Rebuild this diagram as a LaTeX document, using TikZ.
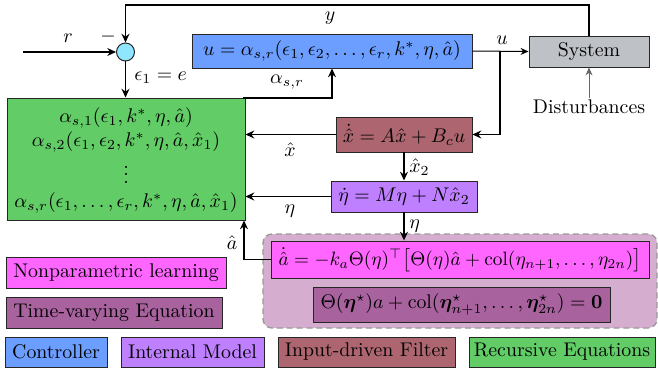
\documentclass[tikz,border=0pt]{standalone}
\usepackage{amsmath,amssymb,bm,graphicx}
\usetikzlibrary{arrows.meta}
\definecolor{cctrl}{RGB}{108,158,255}
\definecolor{csys}{RGB}{190,193,198}
\definecolor{cfilt}{RGB}{173,102,112}
\definecolor{cim}{RGB}{191,128,255}
\definecolor{clearn}{RGB}{255,102,255}
\definecolor{ctv}{RGB}{168,98,158}
\definecolor{crec}{RGB}{98,204,102}
\definecolor{ccont}{RGB}{213,174,207}
\definecolor{csum}{RGB}{143,230,255}
\newlength{\px}
\setlength{\px}{0.505pt}
\begin{document}
\begin{tikzpicture}[x=0.505pt,y=-0.505pt,
  blk/.style={draw=black!85, line width=0.5pt, inner sep=0pt, align=center},
  conn/.style={-{Stealth[length=4.4pt,width=4pt]}, line width=1pt},
  thinconn/.style={-{Stealth[length=4pt,width=3.5pt]}, line width=0.5pt},
  lab/.style={inner sep=1pt}]
\useasboundingbox (0,0) rectangle (658,369);
% container
\node[draw=black!40, dash pattern=on 3pt off 2pt, line width=0.7pt, fill=ccont, rounded corners=4.5pt,
      minimum width=394\px, minimum height=94\px] (cont) at (460,281) {};
% blocks
\node[blk, circle, fill=csum, minimum size=18\px] (sum) at (125.5,52) {};
\node[blk, fill=cctrl, minimum width=280\px, minimum height=34\px] (ctrl) at (332,51)
  {$u=\alpha_{s,r}(\epsilon_1,\epsilon_2,\ldots,\epsilon_r,k^*,\eta,\hat a)$};
\node[blk, fill=csys, minimum width=120\px, minimum height=31\px] (sys) at (589,51.5) {System};
\node[lab] (dist) at (589,107) {Disturbances};
\node[blk, fill=crec, minimum width=238\px, minimum height=122\px] (rec) at (126,159) {};
\node[lab] (rec1) at (126,118) {$\alpha_{s,1}(\epsilon_1,k^*,\eta,\hat a)$};
\node[lab] (rec2) at (126,142) {$\alpha_{s,2}(\epsilon_1,\epsilon_2,k^*,\eta,\hat a,\hat x_1)$};
\node[lab] (recd) at (126,169) {$\vdots$};
\node[lab] (recr) at (126,203) {$\alpha_{s,r}(\epsilon_1,\ldots,\epsilon_r,k^*,\eta,\hat a,\hat x_1)$};
\node[blk, fill=cfilt, minimum width=136\px, minimum height=35\px] (filt) at (404,134.5)
  {$\dot{\hat x}=A\hat x+B_c u$};
\node[blk, fill=cim, minimum width=146\px, minimum height=31\px] (im) at (404,196.5)
  {$\dot\eta=M\eta+N\hat x_2$};
\node[blk, fill=clearn, minimum width=378\px, minimum height=37\px] (learn) at (460,259.5)
  {\scalebox{0.975}{$\dot{\hat a}=-k_a\Theta(\eta)^{\top}\bigl[\Theta(\eta)\hat a+\mathrm{col}(\eta_{n+1},\ldots,\eta_{2n})\bigr]$}};
\node[blk, fill=ctv, minimum width=297\px, minimum height=35\px] (tv) at (461.5,304.5)
  {$\Theta(\bm\eta^\star)a+\mathrm{col}(\bm\eta^\star_{n+1},\ldots,\bm\eta^\star_{2n})=\mathbf 0$};
% legend
\node[blk, fill=clearn, minimum width=220\px, minimum height=31\px] (lg1) at (116,272.5) {Nonparametric learning};
\node[blk, fill=ctv, minimum width=216\px, minimum height=31\px] (lg2) at (114,312.5) {Time-varying Equation};
\node[blk, fill=cctrl, minimum width=102\px, minimum height=30\px] (lg3) at (56,352) {Controller};
\node[blk, fill=cim, minimum width=143\px, minimum height=30\px] (lg4) at (192.5,352) {Internal Model};
\node[blk, fill=cfilt, minimum width=177\px, minimum height=30\px] (lg5) at (366.5,352) {Input-driven Filter};
\node[blk, fill=crec, minimum width=186\px, minimum height=30\px] (lg6) at (562,352) {Recursive Equations};
% coordinates
\coordinate (rin) at (23,52);
\coordinate (ytop) at (589,5);
\coordinate (ubr) at (500,51);
\coordinate (arec) at (243,98);
\coordinate (ahat) at (244,259.5);
% connectors
\draw[conn] (rin) -- (sum.west);
\node[lab] (rlab) at (68,38) {$r$};
\node[lab] (minus) at (108,37) {$-$};
\draw[conn] (sys.north) -- (ytop) -| (sum.north);
\node[lab] (ylab) at (330,18) {$y$};
\draw[conn] (sum.south) -- (sum.south |- rec.north);
\node[lab, anchor=west] (elab) at (132,78) {$\epsilon_1=e$};
\draw[conn] (arec) -| (ctrl.south);
\node[lab] (alab) at (287,82) {$\alpha_{s,r}$};
\draw[thinconn] (ctrl.east) -- (sys.west);
\node[lab] (ulab) at (502,40) {$u$};
\draw[conn] (ubr) |- (filt.east);
\draw[thinconn, draw=black!60] (dist.north) -- (sys.south);
\draw[conn] (filt.west) -- (filt.west -| rec.east);
\node[lab] (xlab) at (290,150) {$\hat x$};
\draw[conn] (filt.south) -- (im.north);
\node[lab, anchor=west] (x2lab) at (407,167) {$\hat x_2$};
\draw[conn] (im.west) -- (im.west -| rec.east);
\node[lab] (elab2) at (290,211) {$\eta$};
\draw[conn] (im.south) -- (im.south |- learn.north);
\node[lab, anchor=west] (elab3) at (407,226) {$\eta$};
\draw[conn] (learn.west) -- (ahat) -- (ahat |- rec.south);
\node[lab] (ahlab) at (232,243) {$\hat a$};
\end{tikzpicture}
\end{document}
